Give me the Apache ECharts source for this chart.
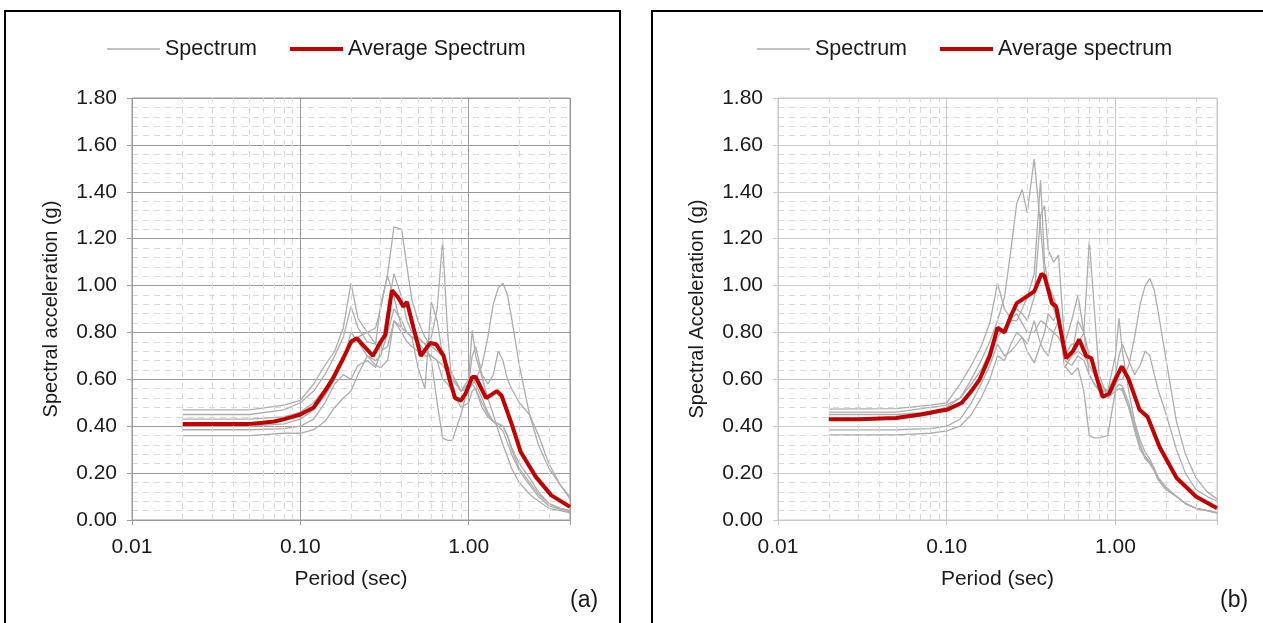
<!DOCTYPE html>
<html>
<head>
<meta charset="utf-8">
<script src="https://cdn.jsdelivr.net/npm/echarts@6/dist/echarts.min.js"></script>
<style>
html, body { margin: 0; padding: 0; background: #fff; }
#chart { width: 1263px; height: 623px; }
</style>
</head>
<body>
<div id="chart"></div>
<script>
// ---- panel (a) ----
var periodsA = [0.02, 0.05, 0.08, 0.1, 0.12, 0.14, 0.16, 0.18, 0.2, 0.22, 0.25, 0.28, 0.3, 0.33, 0.36, 0.4, 0.43, 0.46, 0.5, 0.55, 0.6, 0.65, 0.7, 0.75, 0.8, 0.9, 1.0, 1.05, 1.1, 1.2, 1.3, 1.4, 1.5, 1.6, 1.7, 1.8, 2.0, 2.3, 2.6, 3.0, 3.5, 4.0];
var spectrumA1 = [.47, .47, .49, .51, .58, .66, .72, .82, 1.01, .86, .80, .75, .72, .74, .85, .82, .80, .78, .76, .72, .70, .68, .66, .63, .60, .55, .56, .58, .60, .66, .78, .92, .99, 1.01, .96, .86, .66, .45, .32, .22, .15, .10];
var spectrumA2 = [.45, .45, .47, .50, .55, .62, .70, .78, .91, .82, .76, .75, .92, 1.04, .95, .82, .80, .78, .65, .56, .93, .85, .70, .66, .62, .55, .58, .70, .74, .62, .58, .62, .72, .68, .60, .56, .50, .45, .36, .24, .15, .09];
var spectrumA3 = [.43, .43, .44, .46, .50, .56, .62, .68, .75, .78, .80, .82, .90, 1.05, 1.25, 1.24, 1.08, .94, .85, .78, .74, .72, .70, .66, .62, .55, .60, .81, .70, .61, .52, .45, .38, .32, .27, .22, .16, .11, .08, .05, .04, .03];
var spectrumA4 = [.40, .40, .41, .43, .47, .53, .60, .68, .80, .76, .70, .68, .70, .80, .90, .85, .80, .78, .78, .75, .78, .90, 1.19, .80, .55, .50, .56, .58, .56, .48, .44, .42, .41, .40, .36, .30, .22, .16, .11, .07, .05, .04];
var spectrumA5 = [.385, .385, .39, .40, .43, .50, .58, .62, .60, .66, .68, .65, .72, .90, 1.05, .95, .85, .80, .78, .75, .68, .50, .35, .34, .34, .45, .58, .60, .58, .52, .46, .42, .40, .38, .33, .28, .21, .15, .10, .06, .045, .035];
var spectrumA6 = [.36, .36, .37, .37, .385, .42, .48, .52, .55, .62, .70, .66, .65, .68, .85, .80, .76, .74, .72, .70, .70, .68, .60, .58, .55, .48, .50, .55, .56, .50, .45, .42, .41, .40, .36, .31, .24, .18, .12, .07, .05, .04];
var avgPeriodsA = [0.02, 0.03, 0.04, 0.05, 0.06, 0.07, 0.08, 0.09, 0.1, 0.12, 0.14, 0.155, 0.18, 0.2, 0.217, 0.24, 0.27, 0.3, 0.32, 0.35, 0.38, 0.41, 0.43, 0.47, 0.52, 0.59, 0.64, 0.71, 0.77, 0.83, 0.9, 0.96, 1.05, 1.1, 1.27, 1.47, 1.57, 1.8, 2.04, 2.5, 3.1, 4.0];
var avgA = [.41, .41, .41, .41, .415, .42, .43, .44, .45, .48, .55, .60, .69, .76, .775, .74, .70, .76, .79, .98, .95, .91, .93, .82, .70, .755, .75, .70, .60, .52, .51, .54, .61, .61, .52, .55, .53, .41, .29, .185, .105, .056];

// ---- panel (b) ----
var periodsB = [0.02, 0.05, 0.08, 0.1, 0.12, 0.14, 0.16, 0.18, 0.2, 0.22, 0.24, 0.26, 0.28, 0.3, 0.33, 0.36, 0.38, 0.4, 0.43, 0.46, 0.5, 0.55, 0.6, 0.65, 0.7, 0.75, 0.8, 0.9, 1.0, 1.05, 1.1, 1.2, 1.3, 1.4, 1.5, 1.6, 1.7, 1.8, 2.0, 2.3, 2.6, 3.0, 3.5, 4.0];
var spectrumB1 = [.473, .475, .49, .50, .58, .66, .74, .84, 1.01, .90, .86, .88, .84, .80, .80, .85, .84, .82, .80, .78, .72, .70, .72, .70, .66, .62, .58, .55, .58, .60, .60, .66, .78, .92, 1.00, 1.03, .98, .88, .68, .42, .28, .18, .12, .09];
var spectrumB2 = [.46, .46, .48, .49, .52, .60, .68, .76, .85, .95, 1.15, 1.35, 1.41, 1.31, 1.54, 1.25, 1.05, .98, .90, .85, .68, .66, .70, .68, .62, .58, .55, .55, .62, .70, .75, .68, .62, .66, .72, .70, .62, .55, .45, .30, .20, .13, .10, .08];
var spectrumB3 = [.45, .45, .46, .48, .52, .58, .64, .72, .80, .82, .85, .85, .90, .95, 1.05, 1.45, 1.10, 1.00, .95, .88, .65, .70, .85, .80, .70, .64, .58, .55, .70, .86, .72, .55, .42, .34, .29, .26, .22, .18, .14, .10, .07, .05, .04, .03];
var spectrumB4 = [.43, .43, .45, .47, .50, .55, .62, .70, .78, .82, .88, .90, .88, .85, .95, 1.30, 1.34, 1.15, 1.10, 1.13, .75, .85, .96, .80, .62, .58, .56, .55, .56, .58, .57, .50, .40, .32, .27, .25, .21, .17, .13, .10, .07, .05, .04, .03];
var spectrumB5 = [.384, .385, .39, .40, .43, .50, .58, .66, .75, .70, .72, .75, .78, .72, .67, .75, .80, .88, .85, .90, .70, .75, .75, .80, 1.19, .90, .62, .52, .55, .56, .56, .48, .38, .30, .27, .24, .21, .17, .13, .10, .07, .05, .04, .03];
var spectrumB6 = [.363, .363, .37, .38, .40, .45, .52, .60, .70, .68, .75, .80, .78, .75, .85, .75, .72, .70, .80, .85, .66, .62, .65, .55, .36, .35, .35, .36, .55, .56, .55, .48, .40, .32, .26, .24, .21, .17, .13, .10, .07, .05, .04, .03];
var avgPeriodsB = [0.02, 0.03, 0.05, 0.07, 0.09, 0.1, 0.123, 0.14, 0.157, 0.18, 0.2, 0.22, 0.24, 0.26, 0.28, 0.33, 0.365, 0.38, 0.42, 0.445, 0.51, 0.56, 0.61, 0.67, 0.72, 0.78, 0.84, 0.92, 1.0, 1.09, 1.2, 1.39, 1.55, 1.83, 2.3, 3.0, 4.0];
var avgB = [.43, .43, .435, .45, .465, .47, .50, .55, .60, .70, .82, .80, .87, .925, .94, .975, 1.05, 1.04, .925, .91, .69, .72, .77, .70, .69, .60, .525, .54, .60, .655, .60, .47, .44, .31, .18, .10, .05];

var minorPeriods = [0.02, 0.03, 0.04, 0.05, 0.06, 0.07, 0.08, 0.09, 0.2, 0.3, 0.4, 0.5, 0.6, 0.7, 0.8, 0.9, 2, 3];

var FONT = "'Liberation Sans', Arial, sans-serif";
var TXT = '#1a1a1a';

function pairs(xs, ys) {
    return xs.map(function (x, i) { return [x, ys[i]]; });
}

function xAxisFor(gi, majorColor) {
    return {
        type: 'log', logBase: 10, gridIndex: gi, min: 0.01, max: 4,
        name: 'Period (sec)', nameLocation: 'middle', nameGap: 49,
        nameTextStyle: { fontFamily: FONT, fontSize: 21, color: TXT },
        axisLine: { lineStyle: { color: majorColor } },
        axisTick: { show: true, length: 5, lineStyle: { color: majorColor } },
        axisLabel: {
            fontFamily: FONT, fontSize: 21, color: TXT, margin: 17,
            formatter: function (v) {
                var l = Math.log10(v);
                return Math.abs(l - Math.round(l)) < 1e-6 ? v.toFixed(2) : '';
            }
        },
        splitLine: { show: true, lineStyle: { color: majorColor, width: 1 } }
    };
}

function yAxisFor(gi, name, majorColor, lineType) {
    return {
        type: 'value', gridIndex: gi, min: 0, max: 1.8, interval: 0.2,
        name: name, nameLocation: 'middle', nameGap: 71,
        nameTextStyle: { fontFamily: FONT, fontSize: 20, color: TXT },
        axisLine: { show: true, lineStyle: { color: majorColor, type: lineType } },
        axisTick: { show: true, length: 5, lineStyle: { color: majorColor } },
        axisLabel: { fontFamily: FONT, fontSize: 21, color: TXT, margin: 15,
            formatter: function (v) { return v.toFixed(2); } },
        splitLine: { show: true, lineStyle: { color: majorColor } },
        minorTick: { show: false, splitNumber: 5 },
        minorSplitLine: { show: true, lineStyle: { color: '#d9d9d9', type: [6, 5] } }
    };
}

function graySeries(gi, periods, vals, withMinor) {
    var s = {
        name: 'Spectrum', type: 'line', xAxisIndex: gi, yAxisIndex: gi,
        data: pairs(periods, vals), symbol: 'none',
        lineStyle: { color: '#adadad', width: 1.3 }, itemStyle: { color: '#adadad' },
        z: 3
    };
    if (withMinor) {
        s.markLine = {
            silent: true, symbol: 'none', label: { show: false },
            lineStyle: { color: '#d9d9d9', type: [6, 5], width: 1 },
            data: minorPeriods.map(function (p) { return { xAxis: p }; })
        };
    }
    return s;
}

var thinIcon = 'path://M0,0H53V1.5H0Z';
var thickIcon = 'path://M0,0H53V4H0Z';

var chart = echarts.init(document.getElementById('chart'));

var seriesList = [];
[spectrumA1, spectrumA2, spectrumA3, spectrumA4, spectrumA5, spectrumA6].forEach(function (v, i) {
    seriesList.push(graySeries(0, periodsA, v, i === 0));
});
seriesList.push({
    name: 'Average Spectrum', type: 'line', xAxisIndex: 0, yAxisIndex: 0,
    data: pairs(avgPeriodsA, avgA), symbol: 'none',
    lineStyle: { color: '#c00000', width: 4 }, itemStyle: { color: '#c00000' }, z: 5
});
[spectrumB1, spectrumB2, spectrumB3, spectrumB4, spectrumB5, spectrumB6].forEach(function (v, i) {
    seriesList.push(graySeries(1, periodsB, v, i === 0));
});
seriesList.push({
    name: 'Average spectrum', type: 'line', xAxisIndex: 1, yAxisIndex: 1,
    data: pairs(avgPeriodsB, avgB), symbol: 'none',
    lineStyle: { color: '#c00000', width: 4 }, itemStyle: { color: '#c00000' }, z: 5
});

var option = {
    animation: false,
    backgroundColor: '#fff',
    grid: [
        { left: 132, top: 98, width: 438, height: 422, show: true, borderColor: '#9a9a9a', borderWidth: 1 },
        { left: 778, top: 98, width: 439, height: 422, show: true, borderColor: '#c8c8c8', borderWidth: 1 }
    ],
    xAxis: [xAxisFor(0, '#9a9a9a'), xAxisFor(1, '#c8c8c8')],
    yAxis: [yAxisFor(0, 'Spectral acceleration (g)', '#9a9a9a', [5, 3]), yAxisFor(1, 'Spectral Acceleration (g)', '#c8c8c8', 'solid')],
    legend: [
        { left: 102, top: 33, itemWidth: 53, itemHeight: 14, itemGap: 33,
          data: [{ name: 'Spectrum', icon: thinIcon }, { name: 'Average Spectrum', icon: thickIcon }],
          textStyle: { fontFamily: FONT, fontSize: 21.5, color: TXT } },
        { left: 752, top: 33, itemWidth: 53, itemHeight: 14, itemGap: 33,
          data: [{ name: 'Spectrum', icon: thinIcon }, { name: 'Average spectrum', icon: thickIcon }],
          textStyle: { fontFamily: FONT, fontSize: 21.5, color: TXT } }
    ],
    graphic: [
        { type: 'rect', shape: { x: 5, y: 11, width: 615, height: 630 }, style: { fill: null, stroke: '#000', lineWidth: 2 }, silent: true },
        { type: 'rect', shape: { x: 652, y: 11, width: 620, height: 630 }, style: { fill: null, stroke: '#000', lineWidth: 2 }, silent: true },
        { type: 'text', left: 570, top: 589, style: { text: '(a)', font: '23px ' + FONT, fill: TXT } },
        { type: 'text', left: 1220, top: 589, style: { text: '(b)', font: '23px ' + FONT, fill: TXT } }
    ],
    series: seriesList
};
chart.setOption(option);
</script>
</body>
</html>
